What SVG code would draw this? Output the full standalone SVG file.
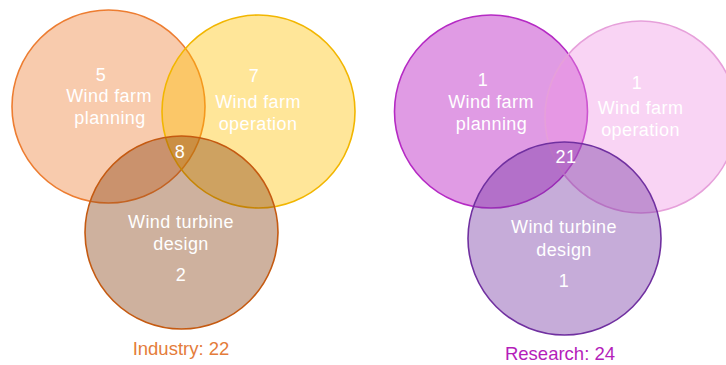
<svg xmlns="http://www.w3.org/2000/svg" width="726" height="365" viewBox="0 0 726 365">
<style>
  .c { stroke-width: 1.6; }
  .t { font-family: "Liberation Sans", Arial, sans-serif; font-size: 18px; fill: #ffffff; text-anchor: middle; letter-spacing: 0.4px; }
  .lbl { font-family: "Liberation Sans", Arial, sans-serif; font-size: 18.5px; text-anchor: middle; }
</style>
<rect width="726" height="365" fill="#ffffff"/>
<g id="industry">
  <g id="ind-planning">
    <circle class="c" cx="108.5" cy="106.5" r="96.5" fill="#ED7D31" fill-opacity="0.4" stroke="#ED7D31"/>
  </g>
  <g id="ind-operation">
    <circle class="c" cx="258.5" cy="111.5" r="96.5" fill="#FFC000" fill-opacity="0.4" stroke="#F2B600"/>
  </g>
  <g id="ind-design">
    <circle class="c" cx="181.5" cy="232.5" r="96.5" fill="#843C0C" fill-opacity="0.4" stroke="#C55A11"/>
  </g>
  <g id="ind-texts">
    <text class="t" x="101" y="81">5</text>
    <text class="t" x="109" y="102">Wind farm</text>
    <text class="t" x="110" y="124">planning</text>
    <text class="t" x="254" y="82">7</text>
    <text class="t" x="258" y="107.5">Wind farm</text>
    <text class="t" x="258" y="129.5">operation</text>
    <text class="t" x="180" y="158">8</text>
    <text class="t" x="181" y="228">Wind turbine</text>
    <text class="t" x="181" y="250">design</text>
    <text class="t" x="181" y="281">2</text>
  </g>
  <text class="lbl" x="181" y="355" fill="#E47C3A">Industry: 22</text>
</g>
<g id="research">
  <g id="res-planning">
    <circle class="c" cx="491" cy="111.5" r="96.5" fill="#B105BB" fill-opacity="0.4" stroke="#B52AC4"/>
  </g>
  <g id="res-operation">
    <circle class="c" cx="641" cy="117" r="96" fill="#F094E3" fill-opacity="0.4" stroke="#E6A0DA"/>
  </g>
  <g id="res-design">
    <circle class="c" cx="564.5" cy="238.5" r="96.5" fill="#7030A0" fill-opacity="0.4" stroke="#7030A0"/>
  </g>
  <g id="res-texts">
    <text class="t" x="483" y="86">1</text>
    <text class="t" x="491" y="107.5">Wind farm</text>
    <text class="t" x="491.5" y="130">planning</text>
    <text class="t" x="637" y="88.5">1</text>
    <text class="t" x="640.5" y="113.5">Wind farm</text>
    <text class="t" x="640.5" y="136">operation</text>
    <text class="t" x="566" y="163">21</text>
    <text class="t" x="564" y="233">Wind turbine</text>
    <text class="t" x="564" y="256">design</text>
    <text class="t" x="564" y="287">1</text>
  </g>
  <text class="lbl" x="560" y="360" fill="#B41EBA">Research: 24</text>
</g>
</svg>
